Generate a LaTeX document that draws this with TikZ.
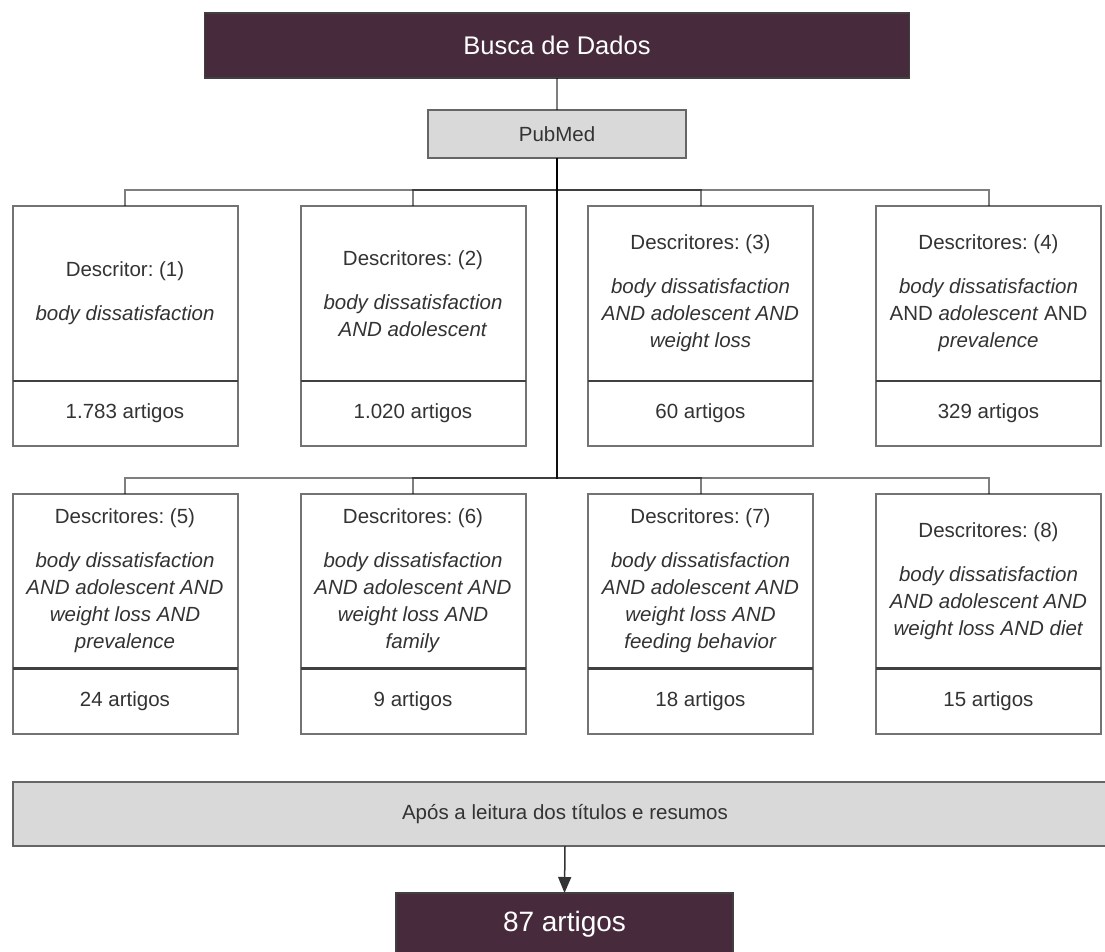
\documentclass[tikz,border=0pt]{standalone}
\usepackage{fontspec}
\setmainfont{Liberation Sans}
\usetikzlibrary{arrows.meta}
\definecolor{plum}{HTML}{472B3D}
\definecolor{boxfill}{HTML}{D9D9D9}
\definecolor{boxline}{HTML}{737373}
\definecolor{greyline}{HTML}{666666}
\definecolor{divline}{HTML}{404040}
\definecolor{txt}{HTML}{333333}
\newcommand\mkdesc[2]{Descritores: (#1)\\[17pt]#2}
\frenchspacing
\begin{document}
\frenchspacing
\begin{tikzpicture}[x=1pt,y=-1pt,
  every node/.style={outer sep=0pt, inner sep=0pt, text=txt},
  body/.style={font=\fontsize{20.5}{27}\selectfont},
  darkbox/.style={draw=black!75, line width=1.5pt, fill=plum, text=white, minimum height=65pt},
  greybox/.style={draw=greyline, line width=2.5pt, fill=boxfill, body},
  upperbox/.style={draw=boxline, line width=2pt, fill=white, minimum width=225pt, minimum height=175pt, align=center, body},
  lowerbox/.style={draw=boxline, line width=2pt, fill=white, minimum width=225pt, minimum height=65pt, body},
  edge/.style={draw=black, draw opacity=0.5, line width=2pt},
  divider/.style={draw=divline, line width=2.5pt},
  arrowedge/.style={draw=txt, line width=1.5pt, -{Triangle[width=13pt,length=16pt]}}
]
\useasboundingbox (0,0) rectangle (1105,951);
\clip (0,0) rectangle (1105,951);
\fill[white] (0,0) rectangle (1105,951);

% top
\node[darkbox, minimum width=705pt, font=\fontsize{25.5}{30}\selectfont] (busca) at (557,45.5) {Busca de Dados};
\node[greybox, minimum width=258pt, minimum height=48pt] (pub) at (557,134) {PubMed};

% row 1
\node[upperbox] (u1) at (125,293.5) {Descritor: (1)\\[17pt]\textit{body dissatisfaction}};
\node[lowerbox] (l1) at (125,413.5) {1.783 artigos};
\node[upperbox] (u2) at (413,293.5) {\mkdesc{2}{\textit{body dissatisfaction}\\\textit{AND adolescent}}};
\node[lowerbox] (l2) at (413,413.5) {1.020 artigos};
\node[upperbox] (u3) at (700.5,293.5) {\mkdesc{3}{\textit{body dissatisfaction}\\\textit{AND adolescent AND}\\\textit{weight loss}}};
\node[lowerbox] (l3) at (700.5,413.5) {60 artigos};
\node[upperbox] (u4) at (988.5,293.5) {\mkdesc{4}{\textit{body dissatisfaction}\\AND \textit{adolescent} AND\\\textit{prevalence}}};
\node[lowerbox] (l4) at (988.5,413.5) {329 artigos};

% row 2
\node[upperbox] (u5) at (125,581) {\mkdesc{5}{\textit{body dissatisfaction}\\\textit{AND adolescent AND}\\\textit{weight loss AND}\\\textit{prevalence}}};
\node[lowerbox] (l5) at (125,701) {24 artigos};
\node[upperbox] (u6) at (413,581) {\mkdesc{6}{\textit{body dissatisfaction}\\\textit{AND adolescent AND}\\\textit{weight loss AND}\\\textit{family}}};
\node[lowerbox] (l6) at (413,701) {9 artigos};
\node[upperbox] (u7) at (700.5,581) {\mkdesc{7}{\textit{body dissatisfaction}\\\textit{AND adolescent AND}\\\textit{weight loss AND}\\\textit{feeding behavior}}};
\node[lowerbox] (l7) at (700.5,701) {18 artigos};
\node[upperbox] (u8) at (988.5,581) {\mkdesc{8}{\textit{body dissatisfaction}\\\textit{AND adolescent AND}\\\textit{weight loss AND diet}}};
\node[lowerbox] (l8) at (988.5,701) {15 artigos};

\foreach \i in {1,...,8} {\draw[divider] (u\i.south west) -- (u\i.south east);}

% bottom
\node[greybox, minimum width=1104pt, minimum height=64pt] (apos) at (565,814) {Após a leitura dos títulos e resumos};
\node[darkbox, minimum width=337pt, minimum height=62pt, font=\fontsize{28}{32}\selectfont] (res) at (564.5,924) {87 artigos};

% connectors
\draw[edge] (busca.south) -- (pub.north);
\foreach \i in {1,...,4} {\draw[edge] (pub.south) -- ++(0,31.5) -| (u\i.north);}
\foreach \i in {5,...,8} {\draw[edge] (pub.south) -- ++(0,320) -| (u\i.north);}
\draw[arrowedge] (apos.south) -- (res.north);
\end{tikzpicture}
\end{document}
